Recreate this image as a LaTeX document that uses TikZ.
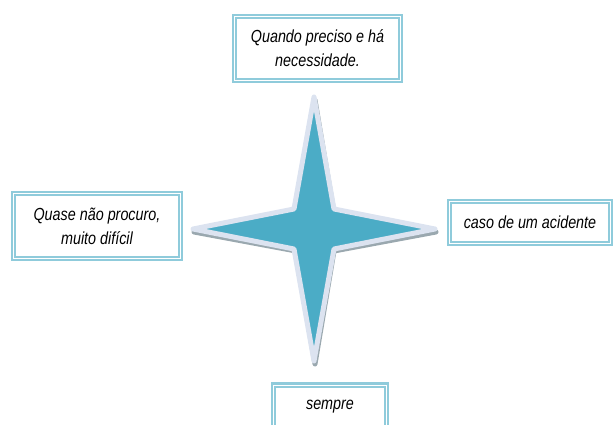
\documentclass[tikz,border=0pt]{standalone}
\usepackage{fontspec}
\setmainfont{Liberation Sans}[FakeStretch=0.82]
\usepackage{xcolor}
\usetikzlibrary{calc, positioning}

\definecolor{boxblue}{HTML}{8FCBDB}
\definecolor{starblue}{HTML}{4BACC6}
\definecolor{starrim}{HTML}{DCE3F0}
\definecolor{starshade}{HTML}{9AA8AF}

\tikzset{
    answer/.style={draw=boxblue, line width=2.2pt, double=white, double distance=1pt,
        fill=white, align=center, inner sep=0pt,
        font=\fontsize{17.5}{24}\selectfont\itshape, text=black},
}

\begin{document}
\begin{tikzpicture}[x=1pt, y=-1pt]
                    \useasboundingbox (0, 0) rectangle (614, 425);

                    % star
                    \coordinate (c) at (314, 229);
                    \draw[starshade, fill=starshade, line width=5pt, line join=round]
                    ($(c) + (1, -129)$) -- ($(c) + (20, -16)$) -- ($(c) + (122, 3)$) -- ($(c) + (20, 22)$)
                    -- ($(c) + (1, 135)$) -- ($(c) + (-18, 22)$) -- ($(c) + (-120, 3)$) -- ($(c) + (-18, -16)$) -- cycle;
                    \draw[starrim, fill=starblue, line width=5pt, line join=round]
                    ($(c) + (0, -132)$) -- ($(c) + (20, -20)$) -- ($(c) + (121, 0)$) -- ($(c) + (20, 20)$)
                    -- ($(c) + (0, 132)$) -- ($(c) + (-20, 20)$) -- ($(c) + (-121, 0)$) -- ($(c) + (-20, -20)$) -- cycle;

                    % answers
                    \node[answer, minimum width=166, minimum height=64] (top) at (317.5, 48.5) {Quando preciso e há\\necessidade.};
                    \node[answer, minimum width=167, minimum height=65] (left) at (97, 226) {Quase não procuro,\\muito difícil};
                    \node[answer, minimum width=161, minimum height=42] (right) at (530, 222.5) {caso de um acidente};
                    \node[answer, minimum width=113, minimum height=44] (bottom) at (330, 407) {sempre};
                \end{tikzpicture}
\end{document}
